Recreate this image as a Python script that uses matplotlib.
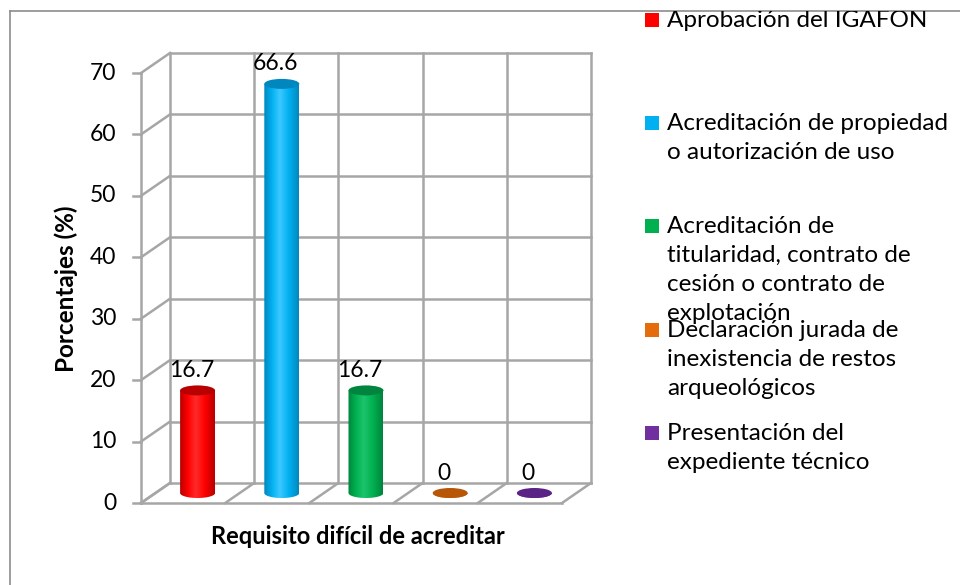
import numpy as np
import matplotlib
matplotlib.use("Agg")
import matplotlib.pyplot as plt
from matplotlib.patches import Ellipse, PathPatch, Rectangle
from matplotlib.path import Path
from matplotlib.lines import Line2D
from matplotlib.colors import LinearSegmentedColormap

plt.rcParams['font.family'] = ['Lato', 'DejaVu Sans']

# datos del grafico
categorias = [
    "Aprobación del IGAFON",
    "Acreditación de propiedad\no autorización de uso",
    "Acreditación de\ntitularidad, contrato de\ncesión o contrato de\nexplotación",
    "Declaración jurada de\ninexistencia de restos\narqueológicos",
    "Presentación del\nexpediente técnico",
]
valores = [16.7, 66.6, 16.7, 0, 0]
etiquetas = ["16.7", "66.6", "16.7", "0", "0"]
ticks_y = [0, 10, 20, 30, 40, 50, 60, 70]

colores = ["#FF0000", "#00B0F0", "#00B050", "#E46C0A", "#7030A0"]
oscuros = ["#B80000", "#0088BE", "#00843E", "#B85608", "#5A2385"]
claros = ["#FF2A2A", "#3CC8FF", "#1CC46C", "#F08030", "#8850B8"]

W, H = 960, 585
fig = plt.figure(figsize=(W / 100, H / 100), dpi=100)

# anclas en pixeles del plano frontal
FX0, FX5, FY0, FY70 = 141, 562, 503, 73
sx = (FX5 - FX0) / 5.0
sy = (FY0 - FY70) / 70.0
L, R, T, B = 100, 620, 30, 525
ax = fig.add_axes([L / W, 1 - B / H, (R - L) / W, (B - T) / H])
ax.axis('off')

DX, DY = 29 / sx, 20 / sy
n = len(valores)
ymax = ticks_y[-1]
gris = "#A6A6A6"
lw = 1.8

# paredes y rejilla
for v in ticks_y:
    ax.plot([DX, n + DX], [v + DY, v + DY], color=gris, lw=lw, zorder=1)
    ax.plot([0, DX], [v, v + DY], color=gris, lw=lw, zorder=1)
    ax.plot([-8 / sx, 0], [v, v], color=gris, lw=lw, zorder=1)
    ax.annotate(str(v), (0, v), xytext=(-25, 0), textcoords='offset pixels',
                ha='right', va='center', fontsize=16.5, color='black')
for k in range(n + 1):
    ax.plot([k + DX, k + DX], [DY, ymax + DY], color=gris, lw=lw, zorder=1)
    ax.plot([k, k + DX], [0, DY], color=gris, lw=lw, zorder=1)
ax.plot([0, n], [0, 0], color=gris, lw=lw, zorder=1)
ax.plot([0, 0], [0, ymax], color=gris, lw=lw, zorder=1)

# cilindros
cw = 35 / sx
eh = 10 / sy
for i, v in enumerate(valores):
    cx = i + 0.5 + DX / 2
    y0 = DY / 2
    y1 = v + DY / 2
    ang = np.linspace(0, -np.pi, 40)
    verts = [(cx - cw / 2, y0), (cx - cw / 2, y1), (cx + cw / 2, y1)]
    verts += [(cx + cw / 2 * np.cos(a), y0 + eh / 2 * np.sin(a)) for a in ang]
    verts.append(verts[0])
    body = PathPatch(Path(verts, closed=True), facecolor='none', edgecolor='none')
    ax.add_patch(body)
    cmap = LinearSegmentedColormap.from_list(
        "c%d" % i, [(0, oscuros[i]), (0.22, colores[i]), (0.45, claros[i]),
                    (0.72, colores[i]), (1, oscuros[i])])
    grad = np.linspace(0, 1, 100).reshape(1, -1)
    im = ax.imshow(grad, cmap=cmap, aspect='auto', zorder=3,
                   extent=[cx - cw / 2, cx + cw / 2, y0 - eh, y1])
    im.set_clip_path(body)
    ax.add_patch(Ellipse((cx, y1), cw, eh, facecolor=oscuros[i],
                         edgecolor='none', zorder=4))
    ax.annotate(etiquetas[i], (cx, y1), xytext=(-6, 20), textcoords='offset pixels',
                ha='center', va='center', fontsize=16.5, color='black', zorder=5)

ax.set_xlim((L - FX0) / sx, (R - FX0) / sx)
ax.set_ylim((FY0 - B) / sy, (FY0 - T) / sy)

# titulos de ejes
fig.text(66 / W, 1 - 289 / H, "Porcentajes (%)", rotation=90, ha='center',
         va='center', fontsize=17.5, fontweight='bold')
fig.text(358 / W, 1 - 537 / H, "Requisito difícil de acreditar", ha='center',
         va='center', fontsize=17, fontweight='bold')

# leyenda (el solape de "explotación" con la siguiente entrada es como en el original)
clip = Rectangle((0, 0), 1, 1 - 11 / H, transform=fig.transFigure)
base_leg = [27, 130, 233, 337, 440]
paso = 29
for i, lab in enumerate(categorias):
    fig.add_artist(Rectangle((645 / W, 1 - base_leg[i] / H), 14 / W, 14 / H,
                             facecolor=colores[i], edgecolor='none',
                             transform=fig.transFigure))
    for j, linea in enumerate(lab.split("\n")):
        t = fig.text(667 / W, 1 - (base_leg[i] + j * paso) / H, linea,
                     ha='left', va='baseline', fontsize=17.5)
        t.set_clip_path(clip)

# borde del area del grafico
fig.add_artist(Line2D([9.5 / W, 9.5 / W], [0, 1 - 11 / H], color="#8C8C8C",
                      lw=1.2, transform=fig.transFigure))
fig.add_artist(Line2D([9.5 / W, 1], [1 - 11 / H, 1 - 11 / H], color="#8C8C8C",
                      lw=1.2, transform=fig.transFigure))

fig.savefig("out.png", dpi=100)
